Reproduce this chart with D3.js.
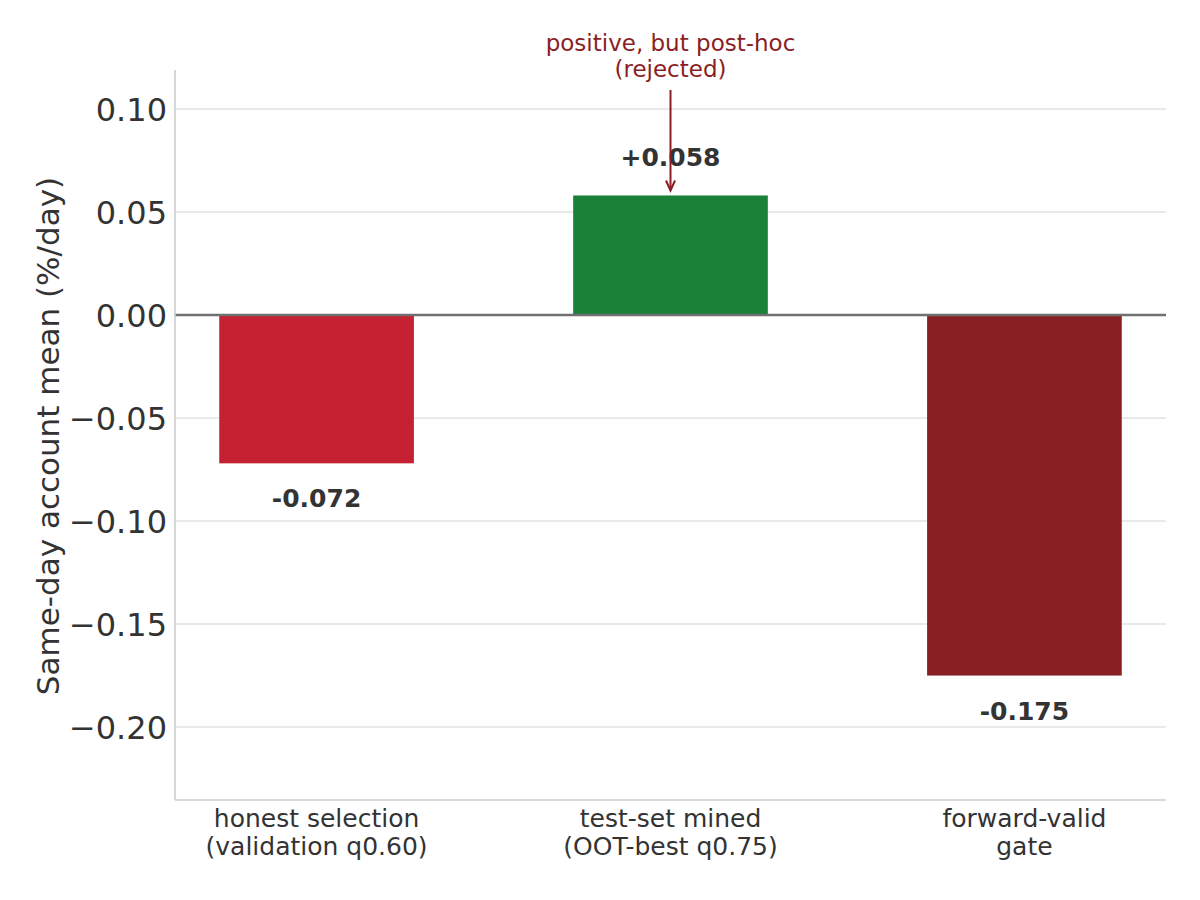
<!DOCTYPE html>
<meta charset="utf-8">
<html>
<head>
  <style>
  body { margin: 0; background: #fff; }
  text { font-family: "DejaVu Sans", sans-serif; fill: #333; }
  </style>
  <script src="https://d3js.org/d3.v7.min.js"></script>
</head>
<body>
  <div id="chart"></div>
  <script type="text/javascript">
  // Data
  var categories = ["honest selection\n(validation q0.60)", "test-set mined\n(OOT-best q0.75)", "forward-valid\ngate"];
  var values = [-0.072, 0.058, -0.175];
  var valueLabels = ["-0.072", "+0.058", "-0.175"];
  var barColors = ["#c62033", "#1b8038", "#871f23"];
  var yTicks = [0.10, 0.05, 0.00, -0.05, -0.10, -0.15, -0.20];
  var annotationLines = ["positive, but post-hoc", "(rejected)"];

  var W = 1200, H = 900;
  var margin = { top: 70, right: 34, bottom: 100, left: 175 };
  var plotW = W - margin.left - margin.right,
      plotH = H - margin.top - margin.bottom;

  var svg = d3.select("#chart").append("svg")
    .attr("width", W).attr("height", H);
  var g = svg.append("g")
    .attr("transform", "translate(" + margin.left + "," + margin.top + ")");

  // Scales
  var x = d3.scaleLinear().domain([-0.4, 2.4]).range([0, plotW]);
  var y = d3.scaleLinear().domain([-0.2354, 0.1189]).range([plotH, 0]);
  var barW = 0.55;

  // Gridlines
  g.selectAll(".grid").data(yTicks).enter().append("line")
    .attr("x1", 0).attr("x2", plotW)
    .attr("y1", function(d) { return y(d); })
    .attr("y2", function(d) { return y(d); })
    .style("stroke", "#e2e2e2").style("stroke-width", 1.6);

  // Bars
  g.selectAll(".bar").data(values).enter().append("rect")
    .attr("x", function(d, i) { return x(i - barW / 2); })
    .attr("width", x(barW) - x(0))
    .attr("y", function(d) { return y(Math.max(0, d)); })
    .attr("height", function(d) { return Math.abs(y(d) - y(0)); })
    .style("fill", function(d, i) { return barColors[i]; });

  // Zero line
  g.append("line")
    .attr("x1", 0).attr("x2", plotW)
    .attr("y1", y(0)).attr("y2", y(0))
    .style("stroke", "#707070").style("stroke-width", 2.6);

  // Value labels
  g.selectAll(".val").data(values).enter().append("text")
    .attr("x", function(d, i) { return x(i); })
    .attr("y", function(d) { return d >= 0 ? y(d) - 29 : y(d) + 44; })
    .attr("text-anchor", "middle")
    .style("font-size", "25px").style("font-weight", "bold")
    .text(function(d, i) { return valueLabels[i]; });

  // Spines
  g.append("line").attr("x1", 0).attr("x2", 0).attr("y1", 0).attr("y2", plotH)
    .style("stroke", "#cccccc").style("stroke-width", 1.6);
  g.append("line").attr("x1", 0).attr("x2", plotW).attr("y1", plotH).attr("y2", plotH)
    .style("stroke", "#cccccc").style("stroke-width", 1.6);

  // Y axis
  var yAxis = g.append("g")
    .call(d3.axisLeft(y).tickValues(yTicks).tickSize(0).tickPadding(8)
      .tickFormat(function(d) { return d3.format(".2f")(d).replace("-", "\u2212"); }));
  yAxis.select(".domain").remove();
  yAxis.selectAll("text").style("font-size", "32px").style("fill", "#333")
    .attr("dy", "0.36em");

  // X tick labels
  var xl = g.selectAll(".xlab").data(categories).enter().append("text")
    .attr("text-anchor", "middle")
    .attr("transform", function(d, i) { return "translate(" + x(i) + "," + (plotH + 27) + ")"; })
    .style("font-size", "25px");
  xl.each(function(d) {
    var t = d3.select(this);
    d.split("\n").forEach(function(line, k) {
      t.append("tspan").attr("x", 0).attr("y", k * 28).text(line);
    });
  });

  // Y axis label
  svg.append("text")
    .attr("transform", "translate(59,436) rotate(-90)")
    .attr("text-anchor", "middle")
    .style("font-size", "31px")
    .text("Same-day account mean (%/day)");

  // Annotation
  var annColor = "#8b1e24";
  g.selectAll(".ann").data(annotationLines).enter().append("text")
    .attr("x", x(1))
    .attr("y", function(d, i) { return -19 + i * 26; })
    .attr("text-anchor", "middle")
    .style("font-size", "23px").style("fill", annColor)
    .text(function(d) { return d; });

  var ax = x(1), ay0 = 20, ay1 = y(values[1]) - 5;
  g.append("line").attr("x1", ax).attr("x2", ax).attr("y1", ay0).attr("y2", ay1)
    .style("stroke", annColor).style("stroke-width", 2);
  g.append("path")
    .attr("d", "M" + (ax - 4.5) + "," + (ay1 - 10) + "L" + ax + "," + ay1 + "L" + (ax + 4.5) + "," + (ay1 - 10))
    .style("fill", "none").style("stroke", annColor).style("stroke-width", 2);
  </script>
</body>
</html>
